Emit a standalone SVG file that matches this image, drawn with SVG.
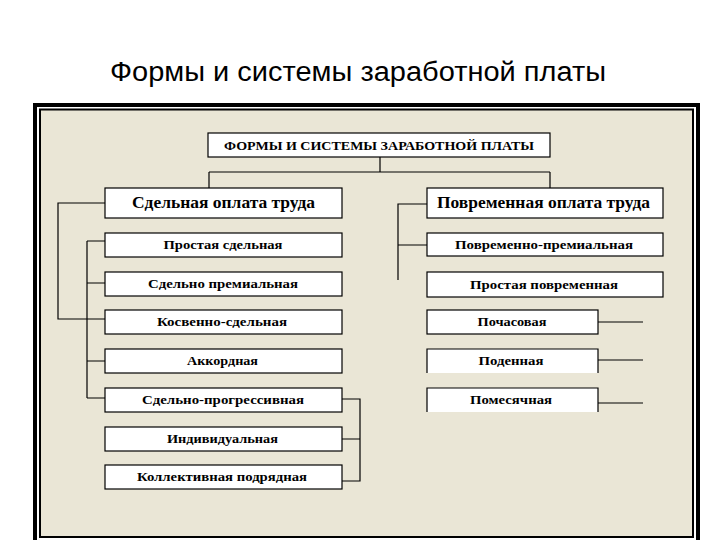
<svg xmlns="http://www.w3.org/2000/svg" width="720" height="540" viewBox="0 0 720 540">
<style>
.box{fill:#ffffff;stroke:#000;stroke-width:1.2}
.open{fill:#ffffff;stroke:none}
.edge{fill:none;stroke:#000;stroke-width:1.2}
.t{font-family:"Liberation Serif","Times New Roman",serif;font-weight:bold;fill:#000;text-anchor:middle}
.s{font-size:12px}
.b{font-size:16px}
</style>
<rect width="720" height="540" fill="#ffffff"/>
<text x="358" y="81" font-family="Liberation Sans, Arial, sans-serif" font-size="27" fill="#000" text-anchor="middle" textLength="496" lengthAdjust="spacingAndGlyphs">Формы и системы заработной платы</text>
<rect x="35" y="105" width="663" height="450" fill="#ffffff" stroke="#000" stroke-width="4"/>
<rect x="40" y="109.5" width="653" height="427.5" fill="#EAE6D6" stroke="#000" stroke-width="2"/>

<g id="connectors" class="edge">
<path class="edge" d="M380 157V172M209 172H550M209 172V188M550 172V188"/>
<path class="edge" d="M105 203H58V319H105"/>
<path class="edge" d="M87 241V398M87 241H105M87 283H105M87 361H105M87 398H105"/>
<path class="edge" d="M342 399H360V481H342M342 439H360"/>
<path class="edge" d="M427 204H398V280M398 245H427"/>
<path class="edge" d="M598 322H643M598 360H643M598 403H643"/>
</g>

<g id="header"><rect class="box" x="208" y="133" width="342" height="24"/><text class="t" x="379" y="150" font-size="12" textLength="310" lengthAdjust="spacingAndGlyphs">ФОРМЫ И СИСТЕМЫ ЗАРАБОТНОЙ ПЛАТЫ</text></g>

<g id="piece"><rect class="box" x="105" y="188" width="237" height="30"/><text class="t b" x="223.5" y="208" textLength="183" lengthAdjust="spacingAndGlyphs">Сдельная оплата труда</text></g>
<g id="time"><rect class="box" x="427" y="188" width="236" height="30"/><text class="t b" x="543.5" y="208" textLength="213" lengthAdjust="spacingAndGlyphs">Повременная оплата труда</text></g>

<g id="simple-piece"><rect class="box" x="105" y="233" width="237" height="24"/><text class="t s" x="223" y="249" textLength="119" lengthAdjust="spacingAndGlyphs">Простая сдельная</text></g>
<g id="piece-bonus"><rect class="box" x="105" y="272" width="237" height="24"/><text class="t s" x="223" y="288" textLength="150" lengthAdjust="spacingAndGlyphs">Сдельно премиальная</text></g>
<g id="indirect-piece"><rect class="box" x="105" y="310" width="237" height="24"/><text class="t s" x="222" y="326" textLength="130" lengthAdjust="spacingAndGlyphs">Косвенно-сдельная</text></g>
<g id="lump"><rect class="box" x="105" y="349" width="237" height="24"/><text class="t s" x="222.5" y="365" textLength="71" lengthAdjust="spacingAndGlyphs">Аккордная</text></g>
<g id="piece-progressive"><rect class="box" x="105" y="388" width="237" height="24"/><text class="t s" x="223" y="404" textLength="162" lengthAdjust="spacingAndGlyphs">Сдельно-прогрессивная</text></g>
<g id="individual"><rect class="box" x="105" y="427" width="237" height="24"/><text class="t s" x="222.5" y="443" textLength="111" lengthAdjust="spacingAndGlyphs">Индивидуальная</text></g>
<g id="collective"><rect class="box" x="105" y="465" width="237" height="24"/><text class="t s" x="222" y="481" textLength="170" lengthAdjust="spacingAndGlyphs">Коллективная подрядная</text></g>

<g id="time-bonus"><rect class="box" x="427" y="233" width="236" height="23"/><text class="t s" x="544" y="248.5" textLength="178" lengthAdjust="spacingAndGlyphs">Повременно-премиальная</text></g>
<g id="simple-time"><rect class="box" x="427" y="272" width="236" height="25"/><text class="t s" x="544" y="289" textLength="148" lengthAdjust="spacingAndGlyphs">Простая повременная</text></g>
<g id="hourly"><rect class="box" x="427" y="310" width="171" height="24"/><text class="t s" x="512" y="326" textLength="69" lengthAdjust="spacingAndGlyphs">Почасовая</text></g>
<g id="daily"><rect class="open" x="427" y="349" width="171" height="24"/><path class="edge" d="M427 373V349H598V373"/><text class="t s" x="511" y="365" textLength="65" lengthAdjust="spacingAndGlyphs">Поденная</text></g>
<g id="monthly"><rect class="open" x="427" y="388" width="171" height="24"/><path class="edge" d="M427 412V388H598V412"/><text class="t s" x="511" y="404" textLength="82" lengthAdjust="spacingAndGlyphs">Помесячная</text></g>
</svg>
